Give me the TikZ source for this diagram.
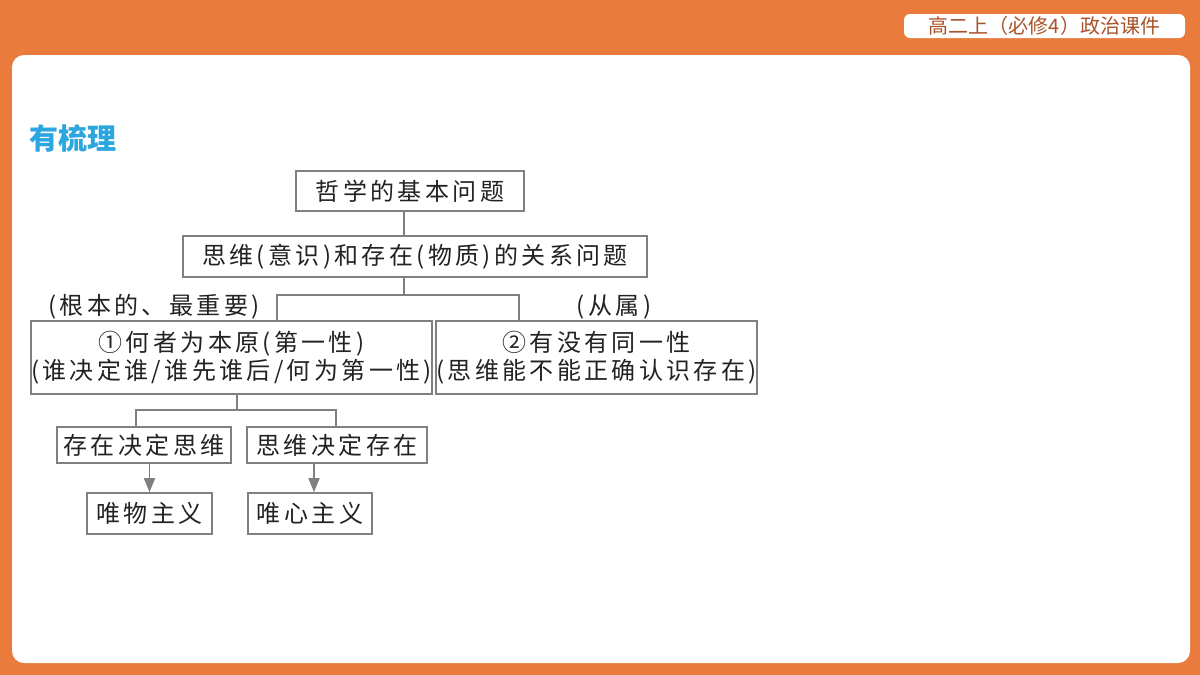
\documentclass[tikz,border=0pt]{standalone}
\usepackage{fontspec}
\usepackage{tikz}
\usetikzlibrary{arrows.meta}
\newfontfamily\cjk[LetterSpace=14]{Noto Sans CJK SC}
\newfontfamily\cjkplain{Noto Sans CJK SC}
\definecolor{pageorange}{HTML}{E97B3C}
\definecolor{tagbrown}{HTML}{A9532A}
\definecolor{titleblue}{HTML}{2BA6DE}
\definecolor{boxgray}{HTML}{808080}
\definecolor{textdark}{HTML}{222222}

\tikzset{
  box/.style={draw=boxgray, line width=1.6pt, fill=white, inner sep=0pt,
    text=textdark, align=center, font=\cjk\fontsize{24}{28}\selectfont},
  note/.style={text=textdark, inner sep=0pt, font=\cjk\fontsize{24}{28}\selectfont},
  link/.style={draw=boxgray, line width=1.6pt},
  arr/.style={link, -{Triangle[width=11pt,length=14pt]}},
  headtag/.style={fill=white, rounded corners=6pt, minimum width=281pt, minimum height=24pt,
    inner sep=0pt, text=tagbrown, font=\cjkplain\fontsize{20}{22}\selectfont},
}

\begin{document}
\begin{tikzpicture}[x=1pt,y=-1pt]
    \useasboundingbox (0,0) rectangle (1200,675);
    % page frame
    \fill[pageorange] (0,0) rectangle (1200,675);
    \fill[white, rounded corners=12pt] (12,55) rectangle (1190,663);
    \node[headtag] (TAG) at (1044.5,26) {高二上（必修4）政治课件};
    \node[text=titleblue, inner sep=0pt, font=\cjkplain\bfseries\fontsize{29}{32}\selectfont] (TTL) at (73,138) {有梳理};

    \node[box, minimum width=228, minimum height=40] (PHQ) at (410,191) {哲学的基本问题};
    \node[box, minimum width=464, minimum height=41] (REL) at (415,256.5) {思维(意识)和存在(物质)的关系问题};

        \node[note] (FUN) at (154,307) {(根本的、最重要)};
        \node[note] (SUB) at (614,307) {(从属)};

        \node[box, minimum width=391, minimum height=73] (ORI) at (231.5,357.5) {①何者为本原(第一性)\\(谁决定谁/谁先谁后/何为第一性)};
        \node[box, minimum width=321, minimum height=73] (IDN) at (596.5,357.5) {②有没有同一性\\(思维能不能正确认识存在)};

        \node[box, minimum width=174, minimum height=36] (EDT) at (144,445) {存在决定思维};
        \node[box, minimum width=180, minimum height=36] (TDE) at (337,445) {思维决定存在};

        \node[box, minimum width=125, minimum height=41] (MAT) at (149.5,513.5) {唯物主义};
        \node[box, minimum width=124, minimum height=41] (IDL) at (310,513.5) {唯心主义};

        \coordinate (J1) at (404,295);
        \coordinate (J1L) at (277,295);
        \coordinate (J1R) at (519,295);
        \coordinate (J2) at (237,410);
        \coordinate (J2L) at (136,410);
        \coordinate (J2R) at (336,410);
        \coordinate (A2) at (314,480);

        \draw[link] (PHQ.south -| J1) -- (REL.north -| J1);
        \draw[link] (REL.south -| J1) -- (J1);
        \draw[link] (ORI.north -| J1L) |- (J1R) -- (IDN.north -| J1R);

        \draw[link] (ORI.south -| J2) -- (J2);
        \draw[link] (EDT.north -| J2L) |- (J2R) -- (TDE.north -| J2R);

        \draw[arr] (EDT.south -| MAT) -- (MAT.north);
        \draw[arr] (TDE.south -| A2) -- (IDL.north -| A2);

\end{tikzpicture}
\end{document}
